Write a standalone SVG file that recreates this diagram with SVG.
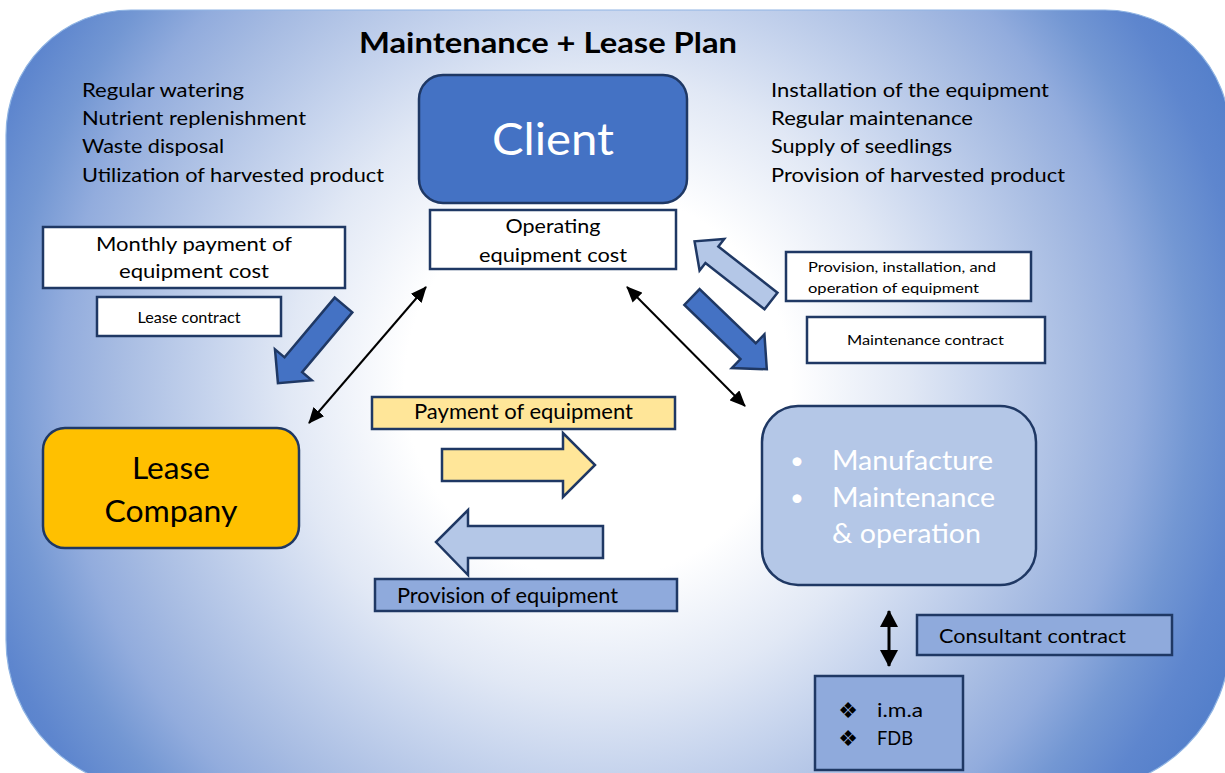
<svg xmlns="http://www.w3.org/2000/svg" width="1225" height="773" viewBox="0 0 1225 773">
  <defs>
    <radialGradient id="bg" gradientUnits="userSpaceOnUse" cx="598" cy="385" r="690">
      <stop offset="0" stop-color="#ffffff"/>
      <stop offset="0.28" stop-color="#ffffff"/>
      <stop offset="0.45" stop-color="#e1e8f5"/>
      <stop offset="0.55" stop-color="#c9d6ee"/>
      <stop offset="0.70" stop-color="#a6bbe2"/>
      <stop offset="0.78" stop-color="#92acdd"/>
      <stop offset="0.86" stop-color="#7397d3"/>
      <stop offset="0.94" stop-color="#5e86ce"/>
      <stop offset="1" stop-color="#5580cb"/>
    </radialGradient>
    <marker id="ah" viewBox="0 0 16 14" markerWidth="16" markerHeight="14" refX="15" refY="7" orient="auto-start-reverse" markerUnits="userSpaceOnUse">
      <path d="M0,0 L16,7 L0,14 z" fill="#000"/>
    </marker>
    <marker id="ahv" viewBox="0 0 17 18" markerWidth="17" markerHeight="18" refX="16" refY="9" orient="auto-start-reverse" markerUnits="userSpaceOnUse">
      <path d="M0,0 L17,9 L0,18 z" fill="#000"/>
    </marker>
    <style>
      text { font-family: Lato, "Open Sans", "Liberation Sans", sans-serif; fill: #000; }
      .box { stroke: #1f3864; stroke-width: 2.5; }
      .white { fill: #ffffff; }
      .list { font-size: 20px; }
      .mid { text-anchor: middle; }
      .thin { stroke: #000; stroke-width: 2; fill: none; }
      .arr { stroke: #1f3864; stroke-width: 2.5; stroke-linejoin: miter; }
      .sym { font-family: "DejaVu Sans", sans-serif; }
    </style>
  </defs>

  <path id="background" d="M6,135 A125,125 0 0 1 131,10 L1105,10 A125,125 0 0 1 1230,135 L1230,640 A150,150 0 0 1 1080,790 L156,790 A150,150 0 0 1 6,640 Z" fill="url(#bg)" stroke="#8fb4e3" stroke-width="1.2"/>

  <text id="title" x="548" y="53" class="mid" font-size="29" font-weight="bold" textLength="378" lengthAdjust="spacingAndGlyphs">Maintenance + Lease Plan</text>

  <g id="client-duties" class="list">
    <text x="82" y="97" textLength="162" lengthAdjust="spacingAndGlyphs">Regular watering</text>
    <text x="82" y="125" textLength="224" lengthAdjust="spacingAndGlyphs">Nutrient replenishment</text>
    <text x="82" y="153" textLength="142" lengthAdjust="spacingAndGlyphs">Waste disposal</text>
    <text x="82" y="182" textLength="302" lengthAdjust="spacingAndGlyphs">Utilization of harvested product</text>
  </g>

  <g id="maker-duties" class="list">
    <text x="771" y="97" textLength="278" lengthAdjust="spacingAndGlyphs">Installation of the equipment</text>
    <text x="771" y="125" textLength="202" lengthAdjust="spacingAndGlyphs">Regular maintenance</text>
    <text x="771" y="153" textLength="181" lengthAdjust="spacingAndGlyphs">Supply of seedlings</text>
    <text x="771" y="182" textLength="294" lengthAdjust="spacingAndGlyphs">Provision of harvested product</text>
  </g>

  <g id="client">
    <rect x="419" y="75" width="268" height="128" rx="24" fill="#4472c4" class="box"/>
    <text x="553" y="155" class="mid" font-size="44" style="fill:#ffffff" textLength="122" lengthAdjust="spacingAndGlyphs">Client</text>
  </g>

  <g id="operating-cost">
    <rect x="430" y="210" width="246" height="59" class="box white"/>
    <text x="553" y="233" class="mid" font-size="20" textLength="95" lengthAdjust="spacingAndGlyphs">Operating</text>
    <text x="553" y="262" class="mid" font-size="20" textLength="148" lengthAdjust="spacingAndGlyphs">equipment cost</text>
  </g>

  <g id="monthly-payment">
    <rect x="43" y="227" width="302" height="61" class="box white"/>
    <text x="194" y="251" class="mid" font-size="20" textLength="196" lengthAdjust="spacingAndGlyphs">Monthly payment of</text>
    <text x="194" y="278" class="mid" font-size="20" textLength="150" lengthAdjust="spacingAndGlyphs">equipment cost</text>
  </g>

  <g id="lease-contract">
    <rect x="97" y="297" width="184" height="39" class="box white"/>
    <text x="189" y="323" class="mid" font-size="15" textLength="103" lengthAdjust="spacingAndGlyphs">Lease contract</text>
  </g>

  <g id="lease-company">
    <rect x="43" y="428" width="256" height="120" rx="22" fill="#ffc000" class="box"/>
    <text x="171" y="479" class="mid" font-size="30" textLength="78" lengthAdjust="spacingAndGlyphs">Lease</text>
    <text x="171" y="522" class="mid" font-size="30" textLength="133" lengthAdjust="spacingAndGlyphs">Company</text>
  </g>

  <g id="payment-label">
    <rect x="372" y="397" width="303" height="32" fill="#ffe699" class="box"/>
    <text x="414" y="419" font-size="21" textLength="219" lengthAdjust="spacingAndGlyphs">Payment of equipment</text>
  </g>

  <g id="provision-label">
    <rect x="375" y="579" width="302" height="32" fill="#8faadc" class="box"/>
    <text x="397" y="603" font-size="21" textLength="221" lengthAdjust="spacingAndGlyphs">Provision of equipment</text>
  </g>

  <g id="manufacturer">
    <rect x="762" y="406" width="274" height="179" rx="36" fill="#b4c7e7" class="box"/>
    <text x="797" y="469" class="mid" font-size="24" style="fill:#ffffff">•</text>
    <text x="797" y="506" class="mid" font-size="24" style="fill:#ffffff">•</text>
    <text x="832" y="470" font-size="27" style="fill:#ffffff" textLength="161" lengthAdjust="spacingAndGlyphs">Manufacture</text>
    <text x="832" y="507" font-size="27" style="fill:#ffffff" textLength="163" lengthAdjust="spacingAndGlyphs">Maintenance</text>
    <text x="832" y="543" font-size="27" style="fill:#ffffff" textLength="149" lengthAdjust="spacingAndGlyphs">&amp; operation</text>
  </g>

  <g id="provision-installation">
    <rect x="786" y="252" width="245" height="49" class="box white"/>
    <text x="808" y="272" font-size="14" textLength="188" lengthAdjust="spacingAndGlyphs">Provision, installation, and</text>
    <text x="808" y="293" font-size="14" textLength="171" lengthAdjust="spacingAndGlyphs">operation of equipment</text>
  </g>

  <g id="maintenance-contract">
    <rect x="807" y="317" width="238" height="46" class="box white"/>
    <text x="847" y="345" font-size="14" textLength="157" lengthAdjust="spacingAndGlyphs">Maintenance contract</text>
  </g>

  <g id="consultant-contract">
    <rect x="917" y="615" width="255" height="40" fill="#8faadc" class="box"/>
    <text x="939" y="643" font-size="20" textLength="187" lengthAdjust="spacingAndGlyphs">Consultant contract</text>
  </g>

  <g id="consultants">
    <rect x="815" y="676" width="148" height="94" fill="#8faadc" class="box"/>
    <text x="848" y="718" class="mid sym" font-size="22">❖</text>
    <text x="848" y="746" class="mid sym" font-size="22">❖</text>
    <text x="877" y="717" font-size="20" textLength="46" lengthAdjust="spacingAndGlyphs">i.m.a</text>
    <text x="877" y="745" font-size="20" textLength="36" lengthAdjust="spacingAndGlyphs">FDB</text>
  </g>

  <g id="connectors">
    <polygon class="arr" fill="#4472c4" points="0,-11.5 78,-11.5 78,-24 102,0 78,24 78,11.5 0,11.5" transform="translate(343.5,305) rotate(130)"/>
    <polygon class="arr" fill="#b4c7e7" points="0,-10.5 75,-10.5 75,-20 97,0 75,20 75,10.5 0,10.5" transform="translate(771,301) rotate(-142)"/>
    <polygon class="arr" fill="#4472c4" points="0,-11 78,-11 78,-23.5 104,0 78,23.5 78,11 0,11" transform="translate(692,297) rotate(44)"/>
    <polygon class="arr" fill="#ffe699" points="442,449 563,449 563,433 595,465 563,497 563,481 442,481"/>
    <polygon class="arr" fill="#b4c7e7" points="603,526 468,526 468,510 436,542 468,575 468,558 603,558"/>
    <path class="thin" d="M309,423 L426,287" marker-start="url(#ah)" marker-end="url(#ah)"/>
    <path class="thin" d="M627,287 L745,406" marker-start="url(#ah)" marker-end="url(#ah)"/>
    <path d="M889,611 L889,666" stroke="#000" stroke-width="3" fill="none" marker-start="url(#ahv)" marker-end="url(#ahv)"/>
  </g>
</svg>
